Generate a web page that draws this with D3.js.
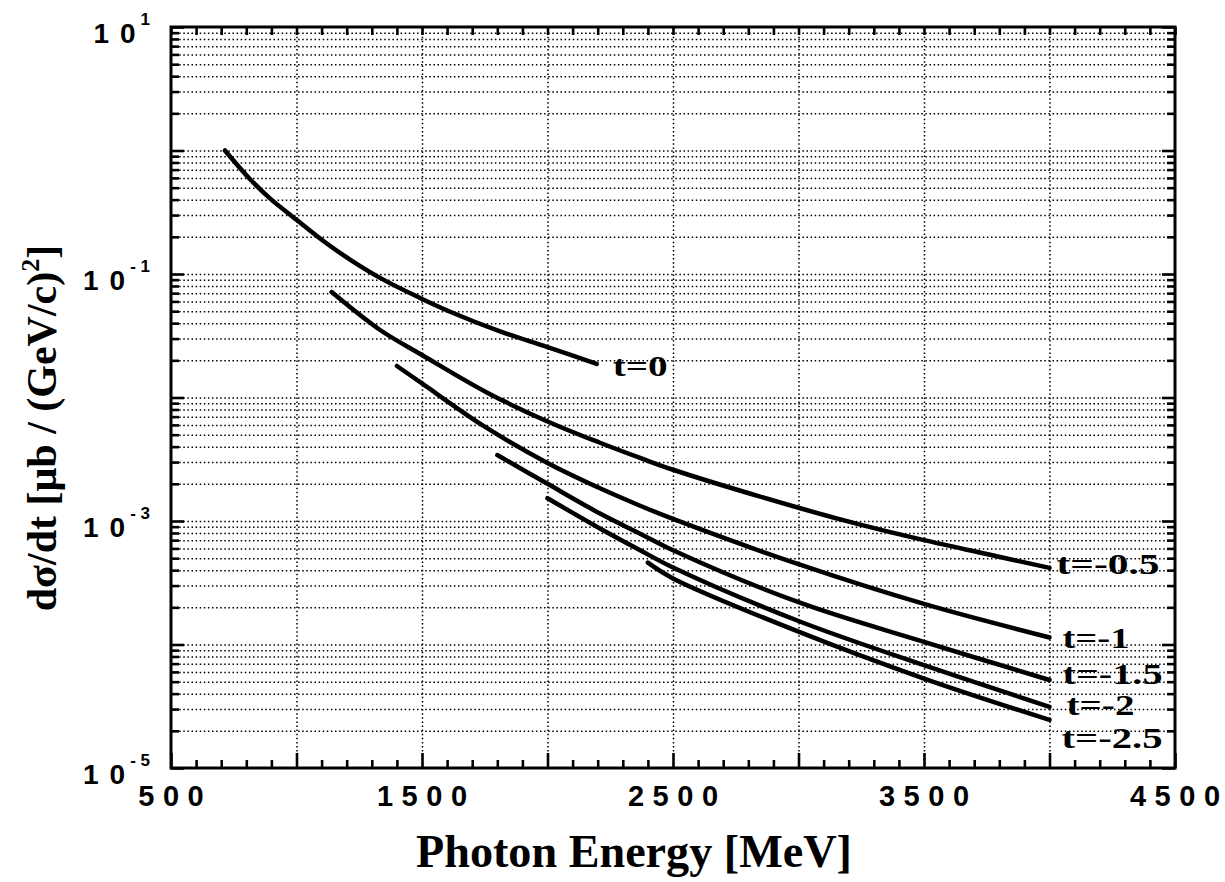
<!DOCTYPE html>
<html>
<head>
<meta charset="utf-8">
<script src="https://cdn.jsdelivr.net/npm/d3@7"></script>
<style>
  body { margin: 0; background: #fff; }
  svg { display: block; }
  .grid line { stroke: #000; stroke-width: 1.5; stroke-dasharray: 1.5,2.6; }
  .grid path { display: none; }
  .ticks path { display: none; }
  .ticks line { stroke: #000; stroke-width: 2.6; }
</style>
</head>
<body>
<svg id="chart" width="1225" height="882"></svg>
<script>
// photon energy [MeV] and dσ/dt [μb/(GeV/c)^2]
const energyT0 = [715, 815, 894, 1000, 1107, 1213, 1346, 1492, 1612, 1811, 2000, 2196];
const sigmaT0 = [1.0, 0.585, 0.41, 0.275, 0.185, 0.131, 0.09, 0.064, 0.0495, 0.0343, 0.0256, 0.0187];

const energyT05 = [1140, 1333, 1500, 1758, 2000, 2209, 2369, 2500, 3000, 3250, 3500, 3750, 4000];
const sigmaT05 = [0.0714, 0.0352, 0.0221, 0.011, 0.0064, 0.0043, 0.00324, 0.0026, 0.00128, 0.00093, 0.0007, 0.00054, 0.000417];

const energyT1 = [1400, 1500, 1750, 2000, 2209, 2369, 2500, 3000, 3500, 4000];
const sigmaT1 = [0.018, 0.013, 0.0058, 0.00295, 0.00184, 0.00133, 0.00104, 0.000447, 0.000213, 0.000114];

const energyT15 = [1800, 2000, 2209, 2369, 2500, 3000, 3500, 4000];
const sigmaT15 = [0.00342, 0.002, 0.00115, 0.00079, 0.00058, 0.00022, 0.000105, 0.0000516];

const energyT2 = [2000, 2209, 2369, 2500, 3000, 3500, 4000];
const sigmaT2 = [0.00153, 0.00087, 0.00058, 0.00042, 0.000155, 0.000068, 0.0000313];

const energyT25 = [2400, 2500, 3000, 3500, 4000];
const sigmaT25 = [0.00046, 0.000343, 0.000127, 0.000053, 0.0000245];

const seriesLabels = ["t=0", "t=-0.5", "t=-1", "t=-1.5", "t=-2", "t=-2.5"];
const xTickLabels = [500, 1500, 2500, 3500, 4500];
const yTickLabels = [10, 0.1, 0.001, 0.00001];

const svg = d3.select("#chart");
const plotLeft = 171, plotRight = 1175, plotTop = 27, plotBottom = 768;
const width = plotRight - plotLeft, height = plotBottom - plotTop;

const x = d3.scaleLinear().domain([500, 4500]).range([plotLeft, plotRight]);
const y = d3.scaleLog().domain([1e-5, 10]).range([plotBottom, plotTop]);

// all 1..9 x 10^k values inside the range
const logValues = [];
for (let k = -5; k <= 0; k++) {
    for (let m = 1; m <= 9; m++) logValues.push(m * Math.pow(10, k));
}
logValues.push(10);
const decades = logValues.filter(v => Math.abs(Math.log10(v) - Math.round(Math.log10(v))) < 1e-9);
const minorY = logValues.filter(v => decades.indexOf(v) < 0);
const gridY = logValues.filter(v => v > 1e-5 && v < 10);
const gridX = d3.range(1000, 4001, 500);
const minorX = d3.range(500, 4501, 100).filter(v => v % 500 !== 0);
const majorX = d3.range(500, 4501, 500);

// dotted grid
svg.append("g")
    .attr("class", "grid")
    .attr("transform", "translate(" + plotLeft + ",0)")
    .call(d3.axisLeft(y).tickValues(gridY).tickSize(-width).tickFormat(""));

svg.append("g")
    .attr("class", "grid")
    .attr("transform", "translate(0," + plotBottom + ")")
    .call(d3.axisBottom(x).tickValues(gridX).tickSize(-height).tickFormat(""));

// inward ticks on all four sides
function ticks(axis, transform) {
    svg.append("g").attr("class", "ticks").attr("transform", transform).call(axis);
}
ticks(d3.axisLeft(y).tickValues(minorY).tickSize(-8).tickFormat(""), "translate(" + plotLeft + ",0)");
ticks(d3.axisLeft(y).tickValues(decades).tickSize(-13).tickFormat(""), "translate(" + plotLeft + ",0)");
ticks(d3.axisRight(y).tickValues(minorY).tickSize(-8).tickFormat(""), "translate(" + plotRight + ",0)");
ticks(d3.axisRight(y).tickValues(decades).tickSize(-13).tickFormat(""), "translate(" + plotRight + ",0)");
ticks(d3.axisBottom(x).tickValues(minorX).tickSize(-8).tickFormat(""), "translate(0," + plotBottom + ")");
ticks(d3.axisBottom(x).tickValues(majorX).tickSize(-15).tickFormat(""), "translate(0," + plotBottom + ")");
ticks(d3.axisTop(x).tickValues(minorX).tickSize(-8).tickFormat(""), "translate(0," + plotTop + ")");
ticks(d3.axisTop(x).tickValues(majorX).tickSize(-8).tickFormat(""), "translate(0," + plotTop + ")");

// frame
svg.append("rect")
    .attr("x", plotLeft).attr("y", plotTop)
    .attr("width", width).attr("height", height)
    .attr("fill", "none").attr("stroke", "#000").attr("stroke-width", 3);

// curves
const series = [
    [energyT0, sigmaT0],
    [energyT05, sigmaT05],
    [energyT1, sigmaT1],
    [energyT15, sigmaT15],
    [energyT2, sigmaT2],
    [energyT25, sigmaT25]
];
const line = d3.line()
    .x(d => x(d[0]))
    .y(d => y(d[1]))
    .curve(d3.curveCatmullRom.alpha(0.5));

svg.append("g")
    .selectAll("path")
    .data(series)
    .enter().append("path")
    .attr("d", s => line(s[0].map((e, i) => [e, s[1][i]])))
    .attr("fill", "none")
    .attr("stroke", "#000")
    .attr("stroke-width", 4.5)
    .attr("stroke-linecap", "round");

// curve labels, placed after the end of each curve: [dx, dy, width]
const labelBox = [[16, 12, 55], [7, 6, 103], [13, 11, 67], [13, 4, 100], [17, 8, 68], [12, 28, 101]];
svg.append("g")
    .selectAll("text")
    .data(series)
    .enter().append("text")
    .attr("x", (s, i) => x(s[0][s[0].length - 1]) + labelBox[i][0])
    .attr("y", (s, i) => y(s[1][s[1].length - 1]) + labelBox[i][1])
    .attr("font-family", "'Liberation Serif', 'Times New Roman', serif")
    .attr("font-weight", "bold")
    .attr("font-size", 29)
    .attr("textLength", (s, i) => labelBox[i][2])
    .attr("lengthAdjust", "spacingAndGlyphs")
    .text((s, i) => seriesLabels[i]);

// x tick labels, wide digit spacing as in the original
svg.append("g")
    .selectAll("text")
    .data(xTickLabels)
    .enter().append("text")
    .attr("x", d => x(d))
    .attr("y", 806)
    .attr("text-anchor", "middle")
    .attr("font-family", "'Liberation Sans', Arial, sans-serif")
    .attr("font-weight", "bold")
    .attr("font-size", 29)
    .selectAll("tspan")
    .data(d => String(d).split(""))
    .enter().append("tspan")
    .attr("dx", (c, i) => i ? 8.5 : 0)
    .text(c => c);

// y tick labels 10^n
const yLab = svg.append("g")
    .selectAll("text")
    .data(yTickLabels)
    .enter().append("text")
    .attr("x", 150)
    .attr("y", d => y(d) + 16)
    .attr("text-anchor", "end")
    .attr("font-family", "'Liberation Sans', Arial, sans-serif")
    .attr("font-weight", "bold");
yLab.append("tspan").attr("font-size", 28).text("1");
yLab.append("tspan").attr("font-size", 28).attr("dx", 11).text("0");
yLab.append("tspan")
    .attr("font-size", 17)
    .attr("dx", 5)
    .attr("dy", -18)
    .text(d => {
        const p = Math.round(Math.log10(d));
        return p < 0 ? "- " + (-p) : String(p);
    });

// axis titles
svg.append("text")
    .attr("x", 634)
    .attr("y", 867)
    .attr("text-anchor", "middle")
    .attr("font-family", "'Liberation Serif', 'Times New Roman', serif")
    .attr("font-weight", "bold")
    .attr("font-size", 46)
    .attr("textLength", 436)
    .attr("lengthAdjust", "spacingAndGlyphs")
    .text("Photon Energy [MeV]");

const yTitle = svg.append("text")
    .attr("transform", "translate(56,428) rotate(-90)")
    .attr("text-anchor", "middle")
    .attr("font-family", "'Liberation Serif', 'Times New Roman', serif")
    .attr("font-weight", "bold")
    .attr("font-size", 42);
yTitle.append("tspan").text("dσ/dt [μb / (GeV/c)");
yTitle.append("tspan").attr("font-size", 26).attr("dy", -17).text("2");
yTitle.append("tspan").attr("dy", 17).text("]");
</script>
</body>
</html>
